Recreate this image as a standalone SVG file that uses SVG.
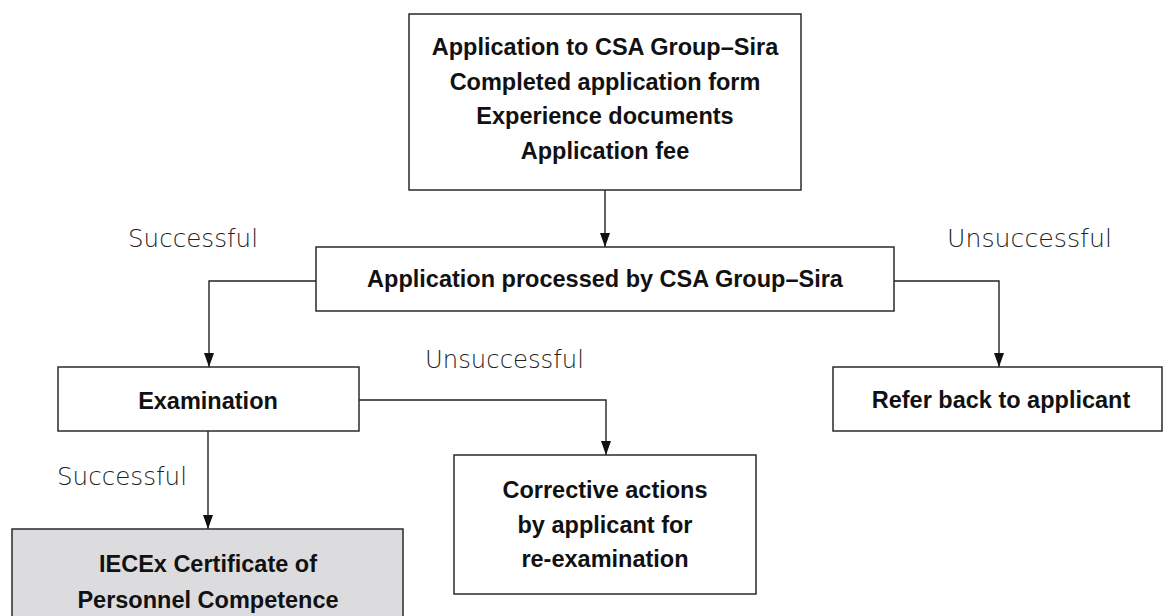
<svg xmlns="http://www.w3.org/2000/svg" width="1163" height="616" viewBox="0 0 1163 616">
<defs>
<style>
.box{fill:#ffffff;stroke:#2a2a2a;stroke-width:1.5}
.grey{fill:#dcdcdf}
.t{font-family:"Liberation Sans",Arial,sans-serif;font-weight:bold;font-size:23.5px;fill:#111;text-anchor:middle}
.lbl{font-family:"DejaVu Sans","Liberation Sans",sans-serif;font-weight:300;font-size:24.5px;fill:#222}
.c{fill:none;stroke:#222;stroke-width:1.4}
</style>
<marker id="ah" viewBox="0 0 14 10" refX="14" refY="5" markerWidth="14" markerHeight="10" markerUnits="userSpaceOnUse" orient="auto">
<path d="M0,0 L14,5 L0,10 z" fill="#111"/>
</marker>
</defs>
<rect width="1163" height="616" fill="#ffffff"/>

<g id="connectors">
<path class="c" d="M605,190 V247" marker-end="url(#ah)"/>
<path class="c" d="M316,281 H209 V367" marker-end="url(#ah)"/>
<path class="c" d="M894,281 H999 V367" marker-end="url(#ah)"/>
<path class="c" d="M208,431 V529" marker-end="url(#ah)"/>
<path class="c" d="M359,400 H606 V455" marker-end="url(#ah)"/>
</g>

<g id="labels">
<text class="lbl" x="128" y="247" textLength="130" lengthAdjust="spacingAndGlyphs">Successful</text>
<text class="lbl" x="947" y="247" textLength="165" lengthAdjust="spacingAndGlyphs">Unsuccessful</text>
<text class="lbl" x="425" y="368" textLength="159" lengthAdjust="spacingAndGlyphs">Unsuccessful</text>
<text class="lbl" x="57" y="485" textLength="130" lengthAdjust="spacingAndGlyphs">Successful</text>
</g>

<g id="node-application">
<rect class="box" x="409" y="14" width="392" height="176"/>
<text class="t" x="605" y="55">Application to CSA Group–Sira</text>
<text class="t" x="605" y="90">Completed application form</text>
<text class="t" x="605" y="124">Experience documents</text>
<text class="t" x="605" y="159">Application fee</text>
</g>

<g id="node-processed">
<rect class="box" x="316" y="247" width="578" height="64"/>
<text class="t" x="605" y="287">Application processed by CSA Group–Sira</text>
</g>

<g id="node-examination">
<rect class="box" x="58" y="367" width="301" height="64"/>
<text class="t" x="208" y="409">Examination</text>
</g>

<g id="node-refer">
<rect class="box" x="833" y="367" width="329" height="64"/>
<text class="t" x="1001" y="408">Refer back to applicant</text>
</g>

<g id="node-corrective">
<rect class="box" x="454" y="455" width="302" height="139"/>
<text class="t" x="605" y="498">Corrective actions</text>
<text class="t" x="605" y="533">by applicant for</text>
<text class="t" x="605" y="567">re-examination</text>
</g>

<g id="node-certificate">
<rect class="box grey" x="12" y="529" width="391" height="110"/>
<text class="t" x="208" y="572">IECEx Certificate of</text>
<text class="t" x="208" y="608">Personnel Competence</text>
</g>
</svg>
